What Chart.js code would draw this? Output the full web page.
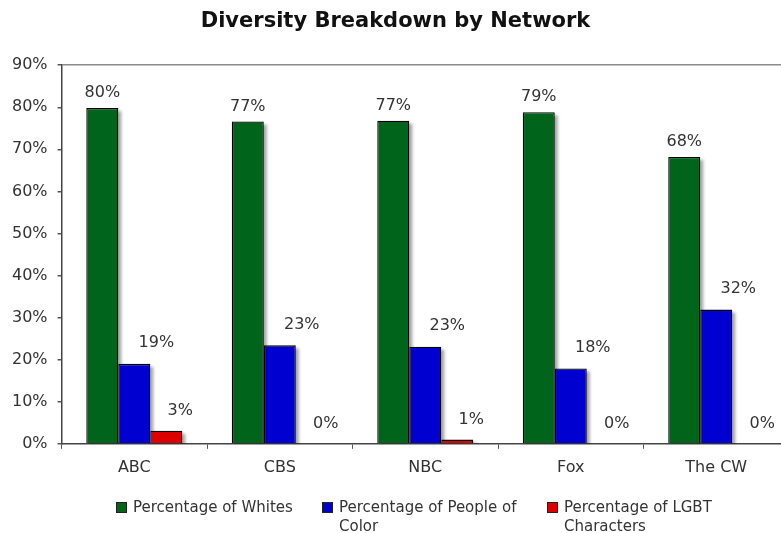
<!DOCTYPE html>
<html lang="en">
<head>
    <meta charset="UTF-8">
    <title>Diversity Breakdown by Network</title>
    <script src="https://cdn.jsdelivr.net/npm/chart.js"></script>
    <style>
        body {
            margin: 0;
            padding: 0;
            background: #ffffff;
            overflow: hidden;
            font-family: 'DejaVu Sans', Verdana, sans-serif;
        }

        .wrap {
            position: relative;
            width: 781px;
            height: 533px;
            overflow: hidden;
        }

        canvas {
            position: absolute;
            left: 0;
            top: 0;
        }

        .legend {
            position: absolute;
            top: 498px;
            left: 116px;
            display: flex;
            font-size: 15px;
            line-height: 19px;
            color: #333;
        }

        .legend-item {
            display: flex;
            align-items: flex-start;
        }

        .legend-item .box {
            width: 11px;
            height: 11px;
            box-sizing: border-box;
            border: 1px solid #222;
            margin-top: 4px;
            margin-right: 6px;
            flex: none;
        }

        .legend-item .txt {
            max-width: 200px;
        }
    </style>
</head>
<body>
    <div class="wrap">
        <canvas id="diversityChart" width="800" height="533"></canvas>
        <div class="legend" id="legend"></div>
    </div>

    <script>
        // data
        const networks = ['ABC', 'CBS', 'NBC', 'Fox', 'The CW'];
        const whites = [79.8, 76.6, 76.8, 78.8, 68.2];
        const peopleOfColor = [19.0, 23.4, 23.1, 17.9, 31.9];
        const lgbt = [3.1, 0, 1.0, 0, 0];
        const seriesNames = ['Percentage of Whites', 'Percentage of People of Color', 'Percentage of LGBT Characters'];
        const yMax = 90;
        const yStep = 10;

        const colors = ['#00641a', '#0000d0', '#dc0000'];
        const labelShift = [0, 22, 14];   // excel puts the labels a bit to the right
        const labelGap = [15, 21, 20];

        const textColor = '#333';
        const fontFamily = "'DejaVu Sans', Verdana, sans-serif";

        // soft grey shadow behind every bar
        const barShadow = {
            id: 'barShadow',
            beforeDatasetsDraw(chart) {
                const ctx = chart.ctx;
                const area = chart.chartArea;
                ctx.save();
                ctx.beginPath();
                ctx.rect(area.left, area.top, area.right - area.left + 10, area.bottom - area.top);
                ctx.clip();
                ctx.filter = 'blur(1.5px)';
                ctx.fillStyle = 'rgba(0, 0, 0, 0.35)';
                chart.data.datasets.forEach((ds, i) => {
                    chart.getDatasetMeta(i).data.forEach(bar => {
                        const h = bar.base - bar.y;
                        if (h <= 0) return;
                        ctx.fillRect(bar.x - bar.width / 2 + 3, bar.y + 3, bar.width, h);
                    });
                });
                ctx.restore();
            }
        };

        // percent labels over the bars
        const valueLabels = {
            id: 'valueLabels',
            afterDatasetsDraw(chart) {
                const ctx = chart.ctx;
                ctx.save();
                ctx.font = '16px ' + fontFamily;
                ctx.fillStyle = textColor;
                ctx.textAlign = 'center';
                ctx.textBaseline = 'middle';
                chart.data.datasets.forEach((ds, i) => {
                    chart.getDatasetMeta(i).data.forEach((bar, j) => {
                        const text = Math.round(ds.data[j]) + '%';
                        ctx.fillText(text, bar.x + labelShift[i], bar.y - labelGap[i]);
                    });
                });
                ctx.restore();
            }
        };

        const seriesData = [whites, peopleOfColor, lgbt];

        const ctx = document.getElementById('diversityChart').getContext('2d');
        const diversityChart = new Chart(ctx, {
            type: 'bar',
            data: {
                labels: networks,
                datasets: seriesData.map((d, i) => ({
                    label: seriesNames[i],
                    data: d,
                    backgroundColor: colors[i],
                    borderColor: '#000',
                    borderWidth: 1.3,
                    borderSkipped: 'start',
                    categoryPercentage: 0.66,
                    barPercentage: 1.0
                }))
            },
            options: {
                responsive: false,
                animation: false,
                layout: {
                    padding: { left: 2, right: 11, top: 0, bottom: 47 }
                },
                plugins: {
                    legend: { display: false },
                    tooltip: { enabled: false },
                    title: {
                        display: true,
                        text: 'Diversity Breakdown by Network',
                        color: '#111',
                        font: { family: fontFamily, size: 21, weight: 'bold' },
                        padding: { top: 9, bottom: 31 }
                    }
                },
                scales: {
                    x: {
                        grid: {
                            offset: true,
                            drawOnChartArea: false,
                            tickLength: 5,
                            tickColor: '#555'
                        },
                        border: { color: '#444', width: 1.5 },
                        ticks: {
                            color: textColor,
                            padding: 9,
                            font: { family: fontFamily, size: 16 }
                        }
                    },
                    y: {
                        min: 0,
                        max: yMax,
                        grid: {
                            color: c => (c.tick && c.tick.value === yMax) ? '#8c8c8c' : 'rgba(0,0,0,0)',
                            lineWidth: 1.5,
                            tickColor: '#555',
                            tickLength: 4
                        },
                        border: { color: '#444', width: 1.5 },
                        ticks: {
                            stepSize: yStep,
                            color: textColor,
                            padding: 10,
                            font: { family: fontFamily, size: 16 },
                            callback: v => v + '%'
                        }
                    }
                }
            },
            plugins: [barShadow, valueLabels]
        });

        // legend below the chart, text wraps like the original
        const legendEl = document.getElementById('legend');
        const itemWidths = [206, 225, null];
        seriesNames.forEach((name, i) => {
            const item = document.createElement('div');
            item.className = 'legend-item';
            if (itemWidths[i]) item.style.width = itemWidths[i] + 'px';
            const box = document.createElement('span');
            box.className = 'box';
            box.style.background = colors[i];
            const txt = document.createElement('span');
            txt.className = 'txt';
            txt.textContent = name;
            item.appendChild(box);
            item.appendChild(txt);
            legendEl.appendChild(item);
        });
    </script>
</body>
</html>
